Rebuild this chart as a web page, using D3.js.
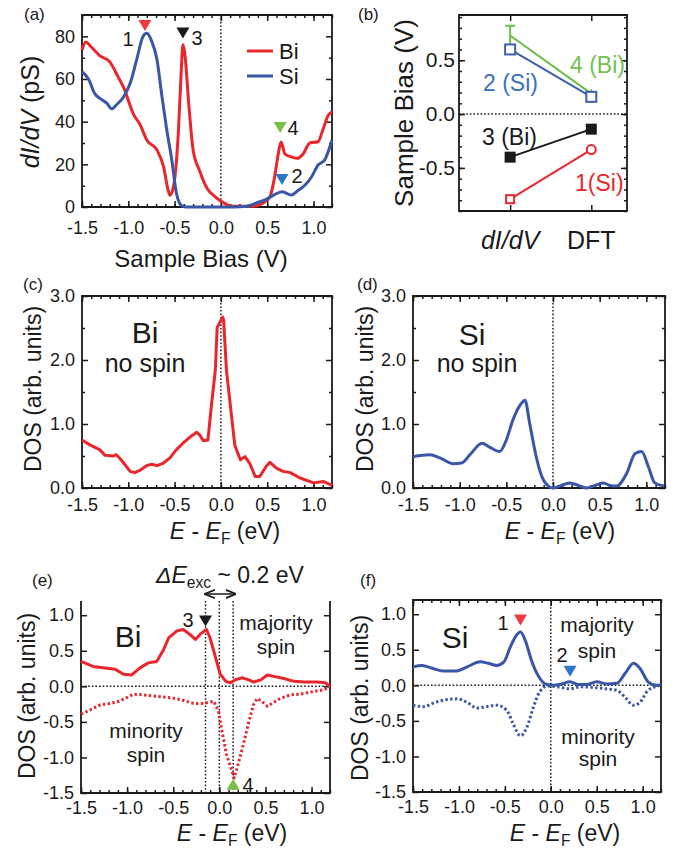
<!DOCTYPE html>
<html>
<head>
<meta charset="utf-8">
<script src="https://cdn.jsdelivr.net/npm/d3@7"></script>
<style>
  body { margin: 0; background: #fff; }
  svg { display: block; font-family: "Liberation Sans", Arial, Helvetica, sans-serif; }
</style>
</head>
<body>
<svg width="673" height="849"></svg>
<script>
const RED = "#e8262b", BLUE = "#3a56a6", GREEN = "#6bbd46", INK = "#1a1a1a";

// (a) dI/dV spectra: [bias V, pS]
const aBi = [[-1.5,73.6],[-1.46,77.3],[-1.4,75],[-1.31,71],[-1.2,68],[-1.11,61],[-1.04,55],[-1.0,50],[-0.95,44],[-0.87,38.4],[-0.8,31.4],[-0.69,26.7],[-0.62,19],[-0.57,8],[-0.55,5.5],[-0.51,10],[-0.46,34.5],[-0.43,62],[-0.41,76],[-0.39,72],[-0.35,50],[-0.3,26.7],[-0.23,17],[-0.15,8.8],[-0.06,4.8],[0.01,2.5],[0.13,0.4],[0.35,0.3],[0.46,2],[0.53,4.8],[0.58,14],[0.62,25],[0.65,30.5],[0.69,25],[0.75,23.6],[0.82,22.8],[0.89,25],[0.96,30],[1.05,30.6],[1.1,36],[1.16,43],[1.2,44.7]];
const aSi = [[-1.5,63.4],[-1.43,60],[-1.36,53],[-1.31,51],[-1.23,48.6],[-1.18,46],[-1.13,47.8],[-1.05,51.7],[-0.98,58],[-0.91,69],[-0.84,80],[-0.8,81.4],[-0.75,78],[-0.69,69],[-0.64,53],[-0.59,37.7],[-0.53,22],[-0.48,6.4],[-0.42,0.5],[-0.37,0],[0.13,0],[0.28,0.3],[0.39,2],[0.49,3.6],[0.57,5.6],[0.66,7.2],[0.71,6.4],[0.76,5.6],[0.84,8],[0.91,10.3],[0.98,14.2],[1.05,19.7],[1.12,22],[1.2,31.4]];
// peak markers in (a): [bias, pS at tip]
const aMarks = [[-0.82, 82.5, "down", "#ee3a3f"], [-0.41, 79, "down", INK], [0.64, 34.7, "down", "#77c043"], [0.66, 10.3, "down", "#2b76c5"]];

// (b) peak positions, dI/dV vs DFT
const bCats = ["dI/dV", "DFT"];
const b4Bi = [0.73, 0.19];
const b4BiErr = [0.09, 0];
const b2Si = [0.60, 0.16];
const b3Bi = [-0.40, -0.14];
const b1Si = [-0.79, -0.33];

// (c),(d) DOS without spin: [E - EF, DOS]
const cBi = [[-1.5,0.75],[-1.41,0.67],[-1.31,0.6],[-1.25,0.51],[-1.16,0.5],[-1.13,0.52],[-1.09,0.46],[-1.05,0.39],[-0.98,0.26],[-0.93,0.24],[-0.87,0.28],[-0.8,0.35],[-0.75,0.37],[-0.69,0.35],[-0.62,0.39],[-0.55,0.47],[-0.48,0.6],[-0.41,0.7],[-0.33,0.8],[-0.26,0.87],[-0.23,0.83],[-0.19,0.74],[-0.14,0.75],[-0.1,1.32],[-0.06,1.84],[-0.04,2.51],[0.02,2.67],[0.03,2.62],[0.06,1.84],[0.12,1.06],[0.15,0.67],[0.21,0.44],[0.26,0.49],[0.31,0.39],[0.37,0.18],[0.42,0.18],[0.49,0.34],[0.53,0.4],[0.6,0.31],[0.67,0.26],[0.75,0.24],[0.85,0.16],[1.0,0.08],[1.11,0.1],[1.2,0.04]];
const dSi = [[-1.5,0.49],[-1.32,0.52],[-1.21,0.47],[-1.07,0.38],[-0.98,0.39],[-0.89,0.52],[-0.76,0.7],[-0.68,0.64],[-0.57,0.57],[-0.5,0.75],[-0.43,1.06],[-0.34,1.32],[-0.3,1.37],[-0.25,1.01],[-0.18,0.49],[-0.12,0.18],[-0.05,0.03],[0,0],[0.07,0.03],[0.18,0.08],[0.29,0.03],[0.36,0],[0.47,0.05],[0.54,0.08],[0.61,0.04],[0.68,0.03],[0.79,0.23],[0.88,0.54],[0.95,0.57],[1.02,0.34],[1.09,0.08],[1.19,0.03]];

// (e),(f) spin-resolved DOS
const eMaj = [[-1.5,0.35],[-1.37,0.28],[-1.26,0.26],[-1.13,0.24],[-1.04,0.17],[-0.95,0.16],[-0.86,0.26],[-0.77,0.33],[-0.68,0.35],[-0.61,0.5],[-0.55,0.68],[-0.46,0.78],[-0.39,0.8],[-0.32,0.73],[-0.26,0.66],[-0.21,0.73],[-0.14,0.8],[-0.1,0.68],[-0.04,0.4],[0.01,0.17],[0.07,0.07],[0.12,0.05],[0.17,0.09],[0.25,0.12],[0.32,0.09],[0.37,0.06],[0.45,0.09],[0.52,0.16],[0.59,0.14],[0.7,0.11],[0.81,0.07],[0.92,0.06],[1.06,0.06],[1.15,0.05],[1.2,0.0]];
const eMin = [[-1.5,-0.39],[-1.4,-0.33],[-1.29,-0.26],[-1.18,-0.24],[-1.09,-0.21],[-1.02,-0.17],[-0.93,-0.11],[-0.82,-0.12],[-0.68,-0.14],[-0.53,-0.16],[-0.41,-0.19],[-0.28,-0.24],[-0.17,-0.24],[-0.06,-0.21],[-0.01,-0.35],[0.03,-0.64],[0.08,-0.97],[0.14,-1.2],[0.16,-1.29],[0.19,-1.16],[0.25,-0.87],[0.32,-0.5],[0.37,-0.26],[0.41,-0.17],[0.46,-0.21],[0.52,-0.28],[0.57,-0.24],[0.66,-0.17],[0.77,-0.12],[0.88,-0.11],[1.03,-0.07],[1.13,-0.05],[1.2,-0.01]];
const fMaj = [[-1.5,0.26],[-1.4,0.28],[-1.29,0.24],[-1.17,0.2],[-1.04,0.2],[-0.91,0.26],[-0.77,0.33],[-0.68,0.31],[-0.59,0.28],[-0.51,0.33],[-0.44,0.54],[-0.37,0.71],[-0.33,0.75],[-0.28,0.64],[-0.21,0.35],[-0.13,0.12],[-0.06,0.02],[0.03,0],[0.12,0.02],[0.21,0.05],[0.3,0.01],[0.39,0.01],[0.5,0.05],[0.61,0.02],[0.72,0.03],[0.81,0.17],[0.9,0.31],[0.97,0.24],[1.06,0.05],[1.15,0],[1.2,0.01]];
const fMin = [[-1.5,-0.28],[-1.38,-0.3],[-1.28,-0.25],[-1.13,-0.2],[-1.02,-0.19],[-0.91,-0.24],[-0.8,-0.32],[-0.7,-0.3],[-0.59,-0.28],[-0.48,-0.35],[-0.41,-0.54],[-0.33,-0.71],[-0.26,-0.59],[-0.19,-0.31],[-0.12,-0.09],[-0.04,-0.01],[0.07,-0.02],[0.21,-0.05],[0.32,-0.02],[0.46,-0.03],[0.61,-0.05],[0.72,-0.07],[0.81,-0.17],[0.9,-0.28],[0.97,-0.24],[1.06,-0.07],[1.17,-0.01]];
const eMarks = [[-0.15, 0.84, "down", INK], [0.15, -1.30, "up", "#77c043"]];
const fMarks = [[-0.33, 0.84, "down", "#ee3a3f"], [0.21, 0.12, "down", "#2b76c5"]];
const eGuides = [-0.15, 0, 0.15];

const xMajor = [-1.5, -1.0, -0.5, 0, 0.5, 1.0];
const xMinor = d3.range(-1.5, 1.21, 0.1).map(v => +v.toFixed(1));
const fmt1 = d => d.toFixed(1);

const svg = d3.select("svg");

const axisStyle = (sel, size) => {
  sel.attr("font-family", null).attr("font-size", null);
  sel.select(".domain").remove();
  sel.selectAll(".tick line").attr("stroke", INK).attr("stroke-width", 1.5);
  sel.selectAll(".tick text").attr("fill", INK).style("font-size", size + "px");
};

const makePanel = p => {
  const x = d3.scaleLinear().domain(p.xDom).range([p.left, p.right]);
  const y = d3.scaleLinear().domain(p.yDom).range([p.bottom, p.top]);
  const g = svg.append("g");
  const fs = p.tickFont || 18;
  const sides = [
    [d3.axisBottom, x, 0, p.bottom, p.xMajor, p.xMinor, p.xFmt, p.padX || 10],
    [d3.axisLeft, y, p.left, 0, p.yMajor, p.yMinor, p.yFmt, p.padY || 7],
    [d3.axisRight, y, p.right, 0, p.yMajor, p.yMinor, null, 0]
  ];
  if (!p.noTop) sides.push([d3.axisTop, x, 0, p.top, p.xMajor, p.xMinor, null, 0]);
  sides.forEach(([ax, sc, tx, ty, major, minor, fmt, pad]) => {
    if (minor.length) {
      g.append("g").attr("transform", `translate(${tx},${ty})`)
        .call(ax(sc).tickValues(minor).tickSize(-3).tickFormat(""))
        .call(axisStyle, fs);
    }
    g.append("g").attr("transform", `translate(${tx},${ty})`)
      .call(ax(sc).tickValues(major).tickSize(-6).tickPadding(pad).tickFormat(fmt || ""))
      .call(axisStyle, fs);
  });
  const frame = p.noTop
    ? `M${p.left},${p.top}V${p.bottom}H${p.right}V${p.top}`
    : `M${p.left},${p.top}V${p.bottom}H${p.right}V${p.top}Z`;
  g.append("path").attr("d", frame).attr("fill", "none").attr("stroke", INK).attr("stroke-width", 1.8);
  return { g, x, y };
};

const dotted = (g, x1, y1, x2, y2) => g.append("line")
  .attr("x1", x1).attr("y1", y1).attr("x2", x2).attr("y2", y2)
  .attr("stroke", INK).attr("stroke-width", 1.5).attr("stroke-dasharray", "1.6,2");

const curve = (P, data, color, dashed, smooth) => P.g.append("path")
  .datum(data)
  .attr("d", d3.line().x(d => P.x(d[0])).y(d => P.y(d[1])).curve(smooth ? d3.curveMonotoneX : d3.curveLinear))
  .attr("fill", "none").attr("stroke", color).attr("stroke-width", 3)
  .attr("stroke-linejoin", "round")
  .attr("stroke-dasharray", dashed ? "2.4,2.4" : null);

const triangles = (P, marks) => marks.forEach(([vx, vy, dir, color]) => {
  const cx = P.x(vx), ty = P.y(vy), h = 11, w = 6.5;
  const s = dir === "down" ? -1 : 1;
  const path = d3.path();
  path.moveTo(cx, ty);
  path.lineTo(cx - w, ty + s * h);
  path.lineTo(cx + w, ty + s * h);
  path.closePath();
  P.g.append("path").attr("d", path.toString()).attr("fill", color);
});

const text = (x, y, str, size, opts = {}) => svg.append("text")
  .attr("x", x).attr("y", y).attr("font-size", size)
  .attr("text-anchor", opts.anchor || "start")
  .attr("fill", opts.color || INK)
  .attr("font-style", opts.italic ? "italic" : null)
  .attr("transform", opts.rotate ? `rotate(-90,${x},${y})` : null)
  .text(str);

const richText = (x, y, size, parts, opts = {}) => {
  const t = svg.append("text").attr("x", x).attr("y", y).attr("font-size", size)
    .attr("text-anchor", opts.anchor || "middle").attr("fill", INK)
    .attr("transform", opts.rotate ? `rotate(-90,${x},${y})` : null);
  parts.forEach(([s, style]) => {
    const ts = t.append("tspan").text(s);
    if (style === "i") ts.attr("font-style", "italic");
    if (style === "sub") ts.attr("font-size", size * 0.68).attr("dy", 5);
    if (style === "up") ts.attr("dy", -5);
  });
  return t;
};

const eAxisTitle = (cx, y) => richText(cx, y, 23, [["E", "i"], [" - "], ["E", "i"], ["F", "sub"], [" (eV)", "up"]]);

// ---------- (a)
const A = makePanel({ left: 82, right: 332, top: 15, bottom: 207, xDom: [-1.5, 1.2], yDom: [0, 90],
  xMajor, xMinor, yMajor: [0, 20, 40, 60, 80], yMinor: [10, 30, 50, 70], xFmt: fmt1, yFmt: d3.format("d"), padX: 14 });
dotted(A.g, A.x(0), A.y(0), A.x(0), A.y(90));
curve(A, aBi, RED, false, true);
curve(A, aSi, BLUE, false, true);
triangles(A, aMarks);
text(128, 46, "1", 20, { anchor: "middle" });
text(197, 45, "3", 20, { anchor: "middle" });
text(293, 135, "4", 20, { anchor: "middle" });
text(297, 183, "2", 20, { anchor: "middle" });
[[RED, "Bi", 51], [BLUE, "Si", 76]].forEach(([c, s, ly]) => {
  A.g.append("line").attr("x1", 247).attr("x2", 273).attr("y1", ly).attr("y2", ly).attr("stroke", c).attr("stroke-width", 3);
  text(279, ly + 8, s, 22);
});
richText(39, 112, 25, [["dI/dV", "i"], [" (pS)"]], { rotate: true });
text(201, 267, "Sample Bias (V)", 24, { anchor: "middle" });
text(24, 20, "(a)", 17);

// ---------- (b)
const B = makePanel({ left: 459, right: 627, top: 15, bottom: 211, xDom: [-0.63, 1.44], yDom: [-0.9, 0.92],
  xMajor: [0, 1], xMinor: [], yMajor: [-0.5, 0, 0.5], yMinor: d3.range(-0.9, 0.91, 0.1).map(v => +v.toFixed(1)),
  xFmt: () => "", yFmt: fmt1, tickFont: 21, padY: 4 });
dotted(B.g, B.x(-0.63), B.y(0), B.x(1.44), B.y(0));
const bSeries = [[b4Bi, GREEN], [b2Si, "#3d5fae"], [b3Bi, INK], [b1Si, RED]];
bSeries.forEach(([vals, c]) => {
  B.g.append("path").datum(vals)
    .attr("d", d3.line().x((d, i) => B.x(i)).y(d => B.y(d)))
    .attr("fill", "none").attr("stroke", c).attr("stroke-width", 2);
});
// error bar for 4 (Bi)
b4BiErr.forEach((e, i) => {
  if (!e) return;
  const cx = B.x(i), y1 = B.y(b4Bi[i] - e), y2 = B.y(b4Bi[i] + e);
  B.g.append("path").attr("d", `M${cx},${y1}V${y2}M${cx - 5},${y2}H${cx + 5}M${cx - 5},${y1}H${cx + 5}`)
    .attr("stroke", GREEN).attr("stroke-width", 2).attr("fill", "none");
});
B.g.append("path").attr("d", d3.symbol(d3.symbolTriangle, 30)()).attr("fill", GREEN)
  .attr("transform", `translate(${B.x(1)},${B.y(b4Bi[1])})`);
b2Si.forEach((v, i) => B.g.append("rect").attr("x", B.x(i) - 5).attr("y", B.y(v) - 5).attr("width", 10).attr("height", 10)
  .attr("fill", "#fff").attr("stroke", "#3d5fae").attr("stroke-width", 2));
b3Bi.forEach((v, i) => B.g.append("rect").attr("x", B.x(i) - 5.5).attr("y", B.y(v) - 5.5).attr("width", 11).attr("height", 11).attr("fill", INK));
B.g.append("rect").attr("x", B.x(0) - 4).attr("y", B.y(b1Si[0]) - 4).attr("width", 8).attr("height", 8)
  .attr("fill", "#fff").attr("stroke", RED).attr("stroke-width", 2);
B.g.append("circle").attr("cx", B.x(1)).attr("cy", B.y(b1Si[1])).attr("r", 4.5)
  .attr("fill", "#fff").attr("stroke", RED).attr("stroke-width", 2);
text(570, 73, "4 (Bi)", 23, { color: "#72c24f" });
text(483, 91, "2 (Si)", 23, { color: "#3a6fbf" });
text(482, 145, "3 (Bi)", 23);
text(575, 191, "1(Si)", 23, { color: RED });
text(B.x(0), 249, bCats[0], 25, { anchor: "middle", italic: true });
text(B.x(1), 249, bCats[1], 25, { anchor: "middle" });
text(413, 113, "Sample Bias (V)", 26, { anchor: "middle", rotate: true });
text(358, 20, "(b)", 17);

// ---------- (c)
const C = makePanel({ left: 82, right: 332, top: 296, bottom: 488, xDom: [-1.5, 1.2], yDom: [0, 3],
  xMajor, xMinor, yMajor: [0, 1, 2, 3], yMinor: [0.5, 1.5, 2.5], xFmt: fmt1, yFmt: fmt1 });
dotted(C.g, C.x(0), C.y(0), C.x(0), C.y(3));
curve(C, cBi, RED, false, false);
text(145, 343, "Bi", 30, { anchor: "middle" });
text(145, 372, "no spin", 25, { anchor: "middle" });
text(41, 389, "DOS (arb. units)", 23, { anchor: "middle", rotate: true });
eAxisTitle(225, 539);
text(23, 290, "(c)", 17);

// ---------- (d)
const D = makePanel({ left: 413, right: 665, top: 296, bottom: 488, xDom: [-1.5, 1.2], yDom: [0, 3],
  xMajor, xMinor, yMajor: [0, 1, 2, 3], yMinor: [0.5, 1.5, 2.5], xFmt: fmt1, yFmt: fmt1 });
dotted(D.g, D.x(0), D.y(0), D.x(0), D.y(3));
curve(D, dSi, BLUE, false, true);
text(472, 345, "Si", 30, { anchor: "middle" });
text(477, 372, "no spin", 25, { anchor: "middle" });
text(373, 389, "DOS (arb. units)", 23, { anchor: "middle", rotate: true });
eAxisTitle(560, 539);
text(357, 290, "(d)", 17);

// ---------- (e)
const spinY = [-1.5, -1.0, -0.5, 0, 0.5, 1.0];
const E = makePanel({ left: 81, right: 330, top: 601, bottom: 793, xDom: [-1.5, 1.2], yDom: [-1.5, 1.2],
  xMajor, xMinor, yMajor: spinY, yMinor: [], xFmt: fmt1, yFmt: fmt1, noTop: true, padX: 8 });
dotted(E.g, E.x(-1.5), E.y(0), E.x(1.2), E.y(0));
eGuides.forEach(v => dotted(E.g, E.x(v), E.y(1.2), E.x(v), E.y(-1.5)));
curve(E, eMin, RED, true, false);
curve(E, eMaj, RED, false, false);
triangles(E, eMarks);
// exchange splitting arrow
svg.append("defs").append("marker").attr("id", "ah").attr("viewBox", "0 0 10 10")
  .attr("refX", 9).attr("refY", 5).attr("markerWidth", 7).attr("markerHeight", 7).attr("orient", "auto-start-reverse")
  .append("path").attr("d", "M0,1L10,5L0,9").attr("fill", "none").attr("stroke", INK).attr("stroke-width", 1.6);
svg.append("line").attr("x1", E.x(-0.15)).attr("x2", E.x(0.17)).attr("y1", 594).attr("y2", 594)
  .attr("stroke", INK).attr("stroke-width", 1.5)
  .attr("marker-start", "url(#ah)").attr("marker-end", "url(#ah)");
richText(156, 583, 23, [["ΔE", "i"], ["exc", "sub"], [" ~ 0.2 eV", "up"]], { anchor: "start" });
text(128, 647, "Bi", 30, { anchor: "middle" });
text(188, 627, "3", 20, { anchor: "middle" });
text(276, 630, "majority", 21, { anchor: "middle" });
text(276, 654, "spin", 21, { anchor: "middle" });
text(146, 738, "minority", 21, { anchor: "middle" });
text(146, 762, "spin", 21, { anchor: "middle" });
text(248, 792, "4", 20, { anchor: "middle" });
text(35, 696, "DOS (arb. units)", 23, { anchor: "middle", rotate: true });
eAxisTitle(232, 841);
text(32, 586, "(e)", 17);

// ---------- (f)
const F = makePanel({ left: 413, right: 661, top: 600, bottom: 792, xDom: [-1.5, 1.2], yDom: [-1.5, 1.2],
  xMajor, xMinor, yMajor: spinY, yMinor: [], xFmt: fmt1, yFmt: fmt1, padX: 8 });
dotted(F.g, F.x(-1.5), F.y(0), F.x(1.2), F.y(0));
dotted(F.g, F.x(0), F.y(1.2), F.x(0), F.y(-1.5));
curve(F, fMin, BLUE, true, true);
curve(F, fMaj, BLUE, false, true);
triangles(F, fMarks);
text(455, 648, "Si", 30, { anchor: "middle" });
text(503, 630, "1", 20, { anchor: "middle" });
text(562, 662, "2", 20, { anchor: "middle" });
text(597, 632, "majority", 21, { anchor: "middle" });
text(597, 658, "spin", 21, { anchor: "middle" });
text(598, 744, "minority", 21, { anchor: "middle" });
text(598, 766, "spin", 21, { anchor: "middle" });
text(368, 698, "DOS (arb. units)", 23, { anchor: "middle", rotate: true });
eAxisTitle(565, 841);
text(360, 586, "(f)", 17);
</script>
</body>
</html>
